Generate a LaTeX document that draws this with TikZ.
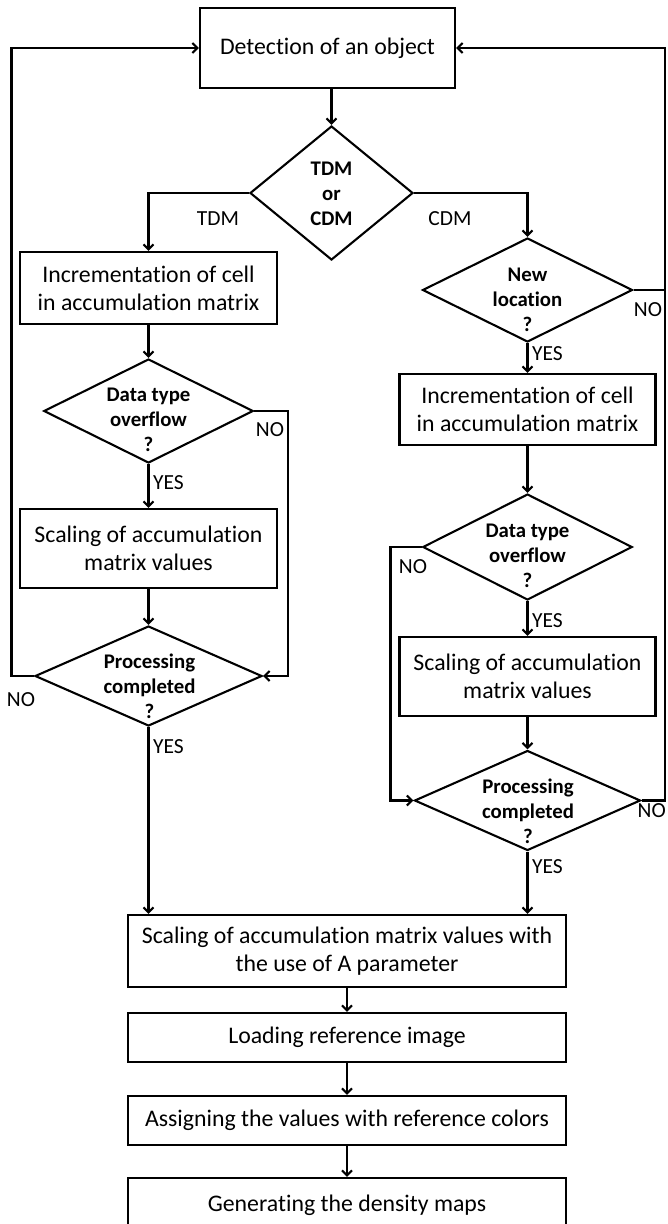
\documentclass[tikz,border=0pt]{standalone}
\usepackage{fontspec}
\setmainfont{Carlito}[Ligatures=NoCommon]
\usetikzlibrary{shapes.geometric,arrows.meta}
\tikzset{
  box/.style={draw, line width=2.1pt, inner sep=0pt, align=center,
    font=\fontsize{23.8}{28}\selectfont},
  dia/.style={draw, diamond, line width=2.1pt, inner sep=0pt},
  dtxt/.style={align=center, inner sep=0pt, font=\fontsize{20.8}{25}\selectfont\bfseries},
  lbl/.style={inner sep=0pt, font=\fontsize{21.5}{24}\selectfont},
  conn/.style={line width=2.1pt},
  arr/.style={conn, -{Straight Barb[length=5pt,width=10pt,line width=2.1pt]}},
}
\begin{document}
\begin{tikzpicture}[x=1pt,y=-1pt]
\useasboundingbox (0,0) rectangle (667,1224);
\clip (0,0) rectangle (667,1224);
% boxes
\node[box, minimum width=255pt, minimum height=80pt] (top) at (327.5,48) {Detection of an object};
\node[box, minimum width=256.5pt, minimum height=72pt] (lb1) at (148.5,288) {Incrementation of cell\\in accumulation matrix};
\node[box, minimum width=256.5pt, minimum height=79pt] (lb2) at (148.5,548.5) {Scaling of accumulation\\matrix values};
\node[box, minimum width=256pt, minimum height=71pt] (rb1) at (527.5,409.5) {Incrementation of cell\\in accumulation matrix};
\node[box, minimum width=256pt, minimum height=79pt] (rb2) at (527.5,676.5) {Scaling of accumulation\\matrix values};
\node[box, minimum width=438pt, minimum height=72pt] (f1) at (347,951) {Scaling of accumulation matrix values with\\the use of A parameter};
\node[box, minimum width=438pt, minimum height=49pt] (f2) at (347,1037.5) {Loading reference image};
\node[box, minimum width=438pt, minimum height=49pt] (f3) at (347,1120.5) {Assigning the values with reference colors};
\node[box, minimum width=438pt, minimum height=54pt] (f4) at (347,1205) {Generating the density maps};
% diamonds
\node[dia, minimum width=163pt, minimum height=134pt] (d0) at (331.5,193) {};
\node[dtxt] (d0t) at (331.5,194) {TDM\\or\\CDM};
\node[dia, minimum width=210pt, minimum height=104pt] (nl) at (527.5,290) {};
\node[dtxt] (nlt) at (527.5,300) {New\\location\\?};
\node[dia, minimum width=209.5pt, minimum height=104pt] (ld1) at (148.5,411) {};
\node[dtxt] (ld1t) at (148.5,420) {Data type\\overflow\\?};
\node[dia, minimum width=209.5pt, minimum height=106pt] (rd1) at (527.5,547) {};
\node[dtxt] (rd1t) at (527.5,556) {Data type\\overflow\\?};
\node[dia, minimum width=227pt, minimum height=100pt] (lp) at (148.5,676) {};
\node[dtxt] (lpt) at (149.5,686) {Processing\\completed\\?};
\node[dia, minimum width=226pt, minimum height=100pt] (rp) at (527.5,800.5) {};
\node[dtxt] (rpt) at (528,811) {Processing\\completed\\?};
% loop coordinates
\coordinate (L) at (11.5,0);
\coordinate (R) at (665.4,0);
\coordinate (LN) at (288.4,0);
\coordinate (RN) at (390.5,0);
% connectors
\draw[arr] (d0.north |- top.south) -- (d0.north);
\draw[arr] (d0.west) -| (lb1.north);
\draw[arr] (d0.east) -| (nl.north);
\draw[arr] (lb1.south) -- (ld1.north);
\draw[arr] (ld1.south) -- (lb2.north);
\draw[arr] (ld1.east) -- (ld1.east -| LN) |- (lp.east);
\draw[arr] (lb2.south) -- (lp.north);
\draw[arr] (lp.west) -- (lp.west -| L) |- (top.west);
\draw[arr] (lp.south) -- (lp.south |- f1.north);
\draw[conn] (nl.east) -- (nl.east -| R);
\draw[arr] (nl.south) -- (rb1.north);
\draw[arr] (rb1.south) -- (rd1.north);
\draw[arr] (rd1.south) -- (rb2.north);
\draw[arr] (rd1.west) -- (rd1.west -| RN) |- (rp.west);
\draw[arr] (rb2.south) -- (rp.north);
\draw[arr] (rp.east) -- (rp.east -| R) |- (top.east);
\draw[arr] (rp.south) -- (rp.south |- f1.north);
\draw[arr] (f1.south) -- (f2.north);
\draw[arr] (f2.south) -- (f3.north);
\draw[arr] (f3.south) -- (f4.north);
% labels
\node[lbl] (lTDM) at (218,219) {TDM};
\node[lbl] (lCDM) at (450,219) {CDM};
\node[lbl] (lno1) at (648,310) {NO};
\node[lbl, anchor=west] (lyes1) at (532,354) {YES};
\node[lbl] (lno2) at (270,430) {NO};
\node[lbl, anchor=west] (lyes2) at (153,483) {YES};
\node[lbl] (lno3) at (413,567) {NO};
\node[lbl, anchor=west] (lyes3) at (532,621) {YES};
\node[lbl] (lno4) at (21,700) {NO};
\node[lbl, anchor=west] (lyes4) at (153,747) {YES};
\node[lbl, anchor=east] (lno5) at (666,811) {NO};
\node[lbl, anchor=west] (lyes5) at (532,867) {YES};
\end{tikzpicture}
\end{document}
